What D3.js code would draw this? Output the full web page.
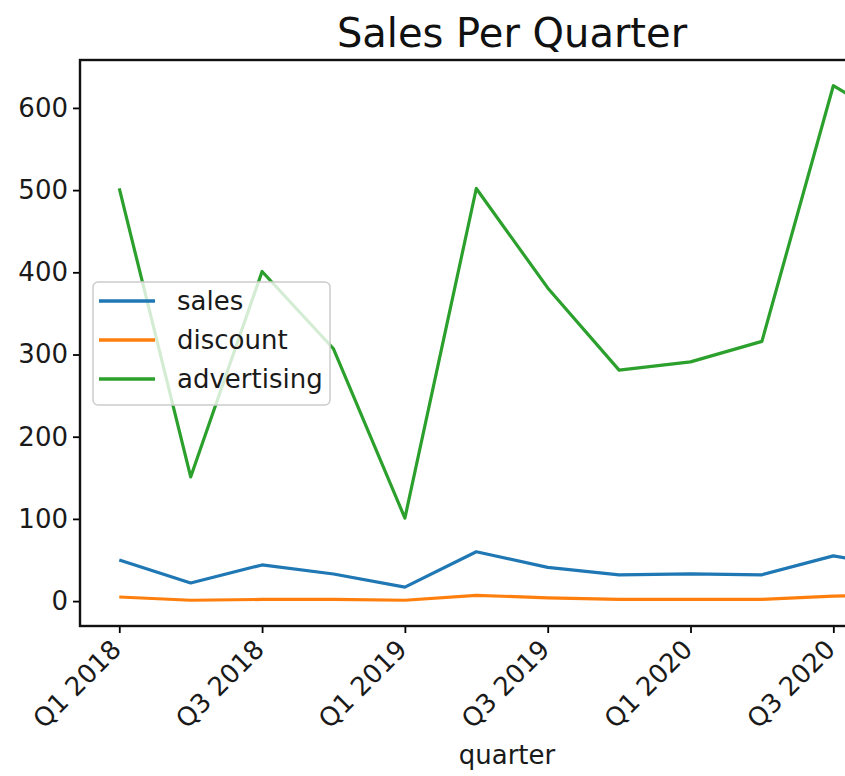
<!DOCTYPE html>
<html>
<head>
<meta charset="utf-8">
<script src="https://cdn.jsdelivr.net/npm/d3@7"></script>
<style>
  body { margin: 0; background: white; }
  text { font-family: "DejaVu Sans", sans-serif; }
</style>
</head>
<body>
<div id="wrapper"></div>
<script>
const quarters = ["Q1 2018", "Q2 2018", "Q3 2018", "Q4 2018",
                  "Q1 2019", "Q2 2019", "Q3 2019", "Q4 2019",
                  "Q1 2020", "Q2 2020", "Q3 2020", "Q4 2020"]
const sales       = [50, 22, 44, 33, 17, 60, 41, 32, 33, 32, 55, 40]
const discount    = [5, 1, 2, 2, 1, 7, 4, 2, 2, 2, 6, 8]
const advertising = [502, 151, 401, 307, 101, 502, 381, 281, 291, 316, 627, 575]
const seriesNames = ["sales", "discount", "advertising"]
const seriesColors = ["#1f77b4", "#ff7f0e", "#2ca02c"]
const xTickIdx = [0, 2, 4, 6, 8, 10]
const yTicks = [0, 100, 200, 300, 400, 500, 600]

function drawLines() {
  const series = [sales, discount, advertising]

  let dms = {
    width: 845,
    height: 776,
    margin: { top: 60, right: -99, bottom: 150, left: 80 },
  }
  dms.boundedWidth = dms.width - dms.margin.left - dms.margin.right
  dms.boundedHeight = dms.height - dms.margin.top - dms.margin.bottom

  const wrapper = d3.select("#wrapper")
    .append("svg")
    .attr("width", dms.width)
    .attr("height", dms.height)
    .style("background", "white")

  const bounds = wrapper.append("g")
    .attr("transform", `translate(${dms.margin.left},${dms.margin.top})`)

  // matplotlib-ish 5% padding on both axes
  const n = quarters.length
  const xScale = d3.scaleLinear()
    .domain([-0.05 * (n - 1), (n - 1) * 1.05])
    .range([0, dms.boundedWidth])

  const allVals = series.flat()
  const [yMin, yMax] = d3.extent(allVals)
  const pad = (yMax - yMin) * 0.05
  const yScale = d3.scaleLinear()
    .domain([yMin - pad, yMax + pad])
    .range([dms.boundedHeight, 0])

  const lineGen = d3.line()
    .x((d, i) => xScale(i))
    .y(d => yScale(d))

  series.forEach((s, k) => {
    bounds.append("path")
      .datum(s)
      .attr("d", lineGen)
      .attr("fill", "none")
      .attr("stroke", seriesColors[k])
      .attr("stroke-width", 3.2)
      .attr("stroke-linejoin", "round")
  })

  // axes
  const yAxis = bounds.append("g")
    .call(d3.axisLeft(yScale).tickValues(yTicks).tickSize(7).tickPadding(5).tickSizeOuter(0))
  yAxis.select(".domain").remove()
  yAxis.selectAll("line").attr("stroke", "black").attr("stroke-width", 1.8)
  yAxis.selectAll("text").style("font-size", "26px").attr("fill", "#1a1a1a")

  const xAxis = bounds.append("g")
    .attr("transform", `translate(0,${dms.boundedHeight})`)
    .call(d3.axisBottom(xScale).tickValues(xTickIdx).tickFormat(i => quarters[i]).tickSize(7).tickSizeOuter(0))
  xAxis.select(".domain").remove()
  xAxis.selectAll("line").attr("stroke", "black").attr("stroke-width", 1.8)
  xAxis.selectAll("text")
    .style("font-size", "26px")
    .attr("fill", "#1a1a1a")
    .attr("text-anchor", "end")
    .attr("dy", 0)
    .attr("y", 0)
    .attr("transform", "translate(3,25) rotate(-45)")

  // frame
  bounds.append("rect")
    .attr("width", dms.boundedWidth)
    .attr("height", dms.boundedHeight)
    .attr("fill", "none")
    .attr("stroke", "#111")
    .attr("stroke-width", 2.4)

  // legend
  const legend = bounds.append("g")
    .attr("transform", `translate(${93 - dms.margin.left},${282 - dms.margin.top})`)
  legend.append("rect")
    .attr("width", 237)
    .attr("height", 123)
    .attr("rx", 5)
    .attr("fill", "white")
    .attr("fill-opacity", 0.8)
    .attr("stroke", "#cccccc")
    .attr("stroke-width", 1.5)
  seriesNames.forEach((name, k) => {
    const y = 19 + k * 39
    legend.append("line")
      .attr("x1", 6).attr("x2", 62)
      .attr("y1", y).attr("y2", y)
      .attr("stroke", seriesColors[k])
      .attr("stroke-width", 3.5)
    legend.append("text")
      .attr("x", 84)
      .attr("y", y)
      .attr("dy", "0.35em")
      .style("font-size", "26px")
      .attr("fill", "#1a1a1a")
      .text(name)
  })

  // title + x label
  wrapper.append("text")
    .attr("x", dms.margin.left + dms.boundedWidth / 2)
    .attr("y", 47)
    .attr("text-anchor", "middle")
    .style("font-size", "40px")
    .attr("fill", "#111")
    .text("Sales Per Quarter")

  wrapper.append("text")
    .attr("x", dms.margin.left + dms.boundedWidth / 2 - 5)
    .attr("y", 764)
    .attr("text-anchor", "middle")
    .style("font-size", "26px")
    .attr("fill", "#1a1a1a")
    .text("quarter")
}

drawLines()
</script>
</body>
</html>
